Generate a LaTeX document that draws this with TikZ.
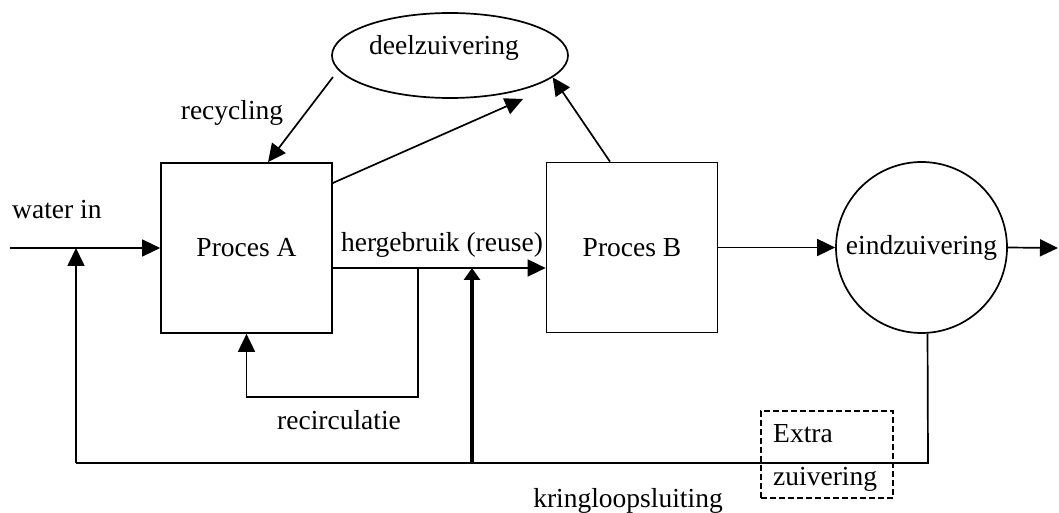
\documentclass[tikz,border=0pt]{standalone}
\usepackage{fontspec}
\setmainfont{Liberation Serif}
\usetikzlibrary{arrows.meta,shapes.geometric,calc}
\begin{document}
\begin{tikzpicture}[x=1bp,y=-1bp,
  every node/.style={font=\fontsize{27.5bp}{32bp}\selectfont, inner sep=0pt},
  thin line/.style={line width=1.7bp},
  arr/.style={thin line,-{Triangle[length=18bp,width=17bp]}},
  thickarr/.style={line width=3.2bp,-{Triangle[length=12bp,width=16bp]}},
  procbox/.style={draw,thin line,rectangle,minimum width=171bp,minimum height=170bp},
  txt/.style={anchor=base}]
\useasboundingbox (0,0) rectangle (1059,513);
% nodes
\node[procbox] (A) at (246.5,248) {Proces A};
\node[procbox] (B) at (632,247.5) {Proces B};
\node[draw,thin line,circle,minimum size=171bp] (E) at (921.5,247.5) {eindzuivering};
\node[draw,thin line,ellipse,minimum width=236bp,minimum height=85bp] (D) at (450,55.5) {};
\node[txt] (Dt) at (444,55) {deelzuivering};
\node[draw,line width=1.7bp,dash pattern=on 6bp off 3bp,minimum width=132bp,minimum height=87bp] (X) at (827,454.5) {};
\node[anchor=base west] (Xt1) at (773,442) {Extra};
\node[anchor=base west] (Xt2) at (773,485) {zuivering};
% labels
\node[anchor=base west] (lwater) at (12,219) {water in};
\node[txt] (lrec) at (232,120) {recycling};
\node[txt] (lherg) at (442,252) {hergebruik (reuse)};
\node[txt] (lrecirc) at (339,429) {recirculatie};
\node[txt] (lkring) at (628,507) {kringloopsluiting};
% coordinates
\coordinate (win) at (10,248);
\coordinate (j1) at (76,248);
\coordinate (bl) at (76,463);
\coordinate (br) at (928,463);
\coordinate (bt) at (472,463);
\coordinate (ht) at (472,268);
\coordinate (r1) at (418,268);
\coordinate (r2) at (418,397);
\coordinate (out) at (1058,248);
\coordinate (rs) at (333,77);
\coordinate (at) at (523,99);
% connectors
\draw[arr] (win) -- (A.west);
\draw[arr] (bl) -- (j1);
\draw[arr] (A.east |- 0,268) -- (B.west |- 0,268);
\draw[arr] (r1) -- (r2) -| (A.south);
\draw[thickarr] (bt) -- (ht);
\draw[thin line] (E.-86) -- (br) -- (bl);
\draw[arr] (B.east) -- (E.west);
\draw[arr] (E.east) -- (out);
\draw[arr] (rs) -- ([xshift=21.5bp]A.north);
\draw[arr] (A.east |- 0,183) -- (at);
\draw[arr] (B.north -| 610,0) -- (D.-12);
\end{tikzpicture}
\end{document}
